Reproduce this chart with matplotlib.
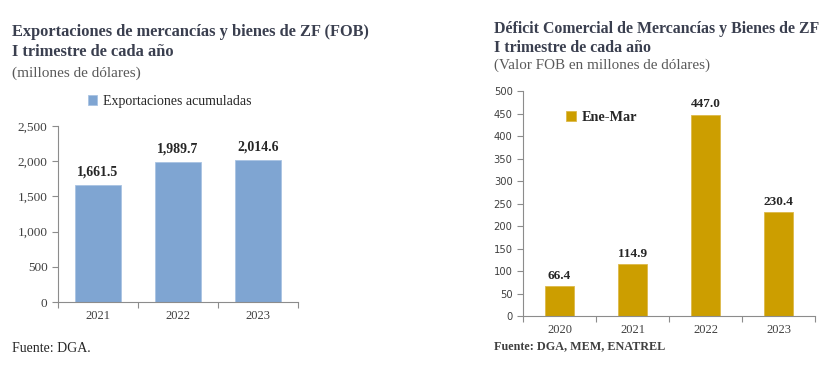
import matplotlib.pyplot as plt
import numpy as np

# left chart data
exp_years = ["2021", "2022", "2023"]
exp_values = [1661.5, 1989.7, 2014.6]

# right chart data
def_years = ["2020", "2021", "2022", "2023"]
def_values = [66.4, 114.9, 447.0, 230.4]

SERIF = "Liberation Serif"
TITLE_C = "#3a3f4f"
SUB_C = "#595959"
TICK_C = "#404040"
SPINE_C = "#8c8c8c"

fig = plt.figure(figsize=(8.29, 3.73), dpi=100)
plt.rcParams['font.family'] = SERIF


def style_axes(ax, n, ymax, ystep, yfmt, ytick_family, ytick_size):
    for s in ["top", "right"]:
        ax.spines[s].set_visible(False)
    for s in ["left", "bottom"]:
        ax.spines[s].set_color(SPINE_C)
        ax.spines[s].set_linewidth(0.8)
    ax.set_xlim(-0.5, n - 0.5)
    ax.set_ylim(0, ymax)
    yt = np.arange(0, ymax + 1, ystep)
    ax.set_yticks(yt)
    ax.set_yticklabels([yfmt(v) for v in yt], family=ytick_family,
                       fontsize=ytick_size, color=TICK_C)
    # category labels in the middle, tick marks on the boundaries
    ax.set_xticks(np.arange(n))
    ax.tick_params(axis="x", which="major", length=0, pad=6)
    ax.set_xticks(np.arange(n + 1) - 0.5, minor=True)
    ax.tick_params(axis="x", which="minor", length=4, color=SPINE_C, width=0.8)
    ax.tick_params(axis="y", length=4, color=SPINE_C, width=0.8)


# ---- left: exportaciones
ax1 = fig.add_axes([0.070, 0.1903, 0.2895, 0.472])
x1 = np.arange(len(exp_years))
b1 = ax1.bar(x1, exp_values, width=0.58, color="#7fa5d2", edgecolor="#a9c3e3",
             linewidth=0.6, label="Exportaciones acumuladas")
style_axes(ax1, len(exp_years), 2500, 500, lambda v: f"{v:,.0f}", SERIF, 9.5)
ax1.set_xticklabels(exp_years, fontsize=9, color=TICK_C)
for xi, v in zip(x1, exp_values):
    ax1.text(xi, v + 90, f"{v:,.1f}", ha="center", va="bottom",
             fontsize=10, fontweight="bold", color="#262626")
ax1.legend(handles=[b1], loc="center left", bbox_to_anchor=(0.0908, 0.729),
           bbox_transform=fig.transFigure, frameon=False, fontsize=10,
           handlelength=0.7, handleheight=0.7, handletextpad=0.4,
           labelcolor="#262626")

fig.text(0.0145, 0.915, "Exportaciones de mercancías y bienes de ZF (FOB)",
         fontsize=11.8, fontweight="bold", color=TITLE_C, va="center")
fig.text(0.0145, 0.86, "I trimestre de cada año", fontsize=11.8,
         fontweight="bold", color=TITLE_C, va="center")
fig.text(0.0145, 0.804, "(millones de dólares)", fontsize=11,
         color=SUB_C, va="center")
fig.text(0.0145, 0.065, "Fuente: DGA.", fontsize=10, color="#262626",
         va="center")

# ---- right: deficit
ax2 = fig.add_axes([0.6309, 0.1528, 0.3522, 0.603])
x2 = np.arange(len(def_years))
b2 = ax2.bar(x2, def_values, width=0.4, color="#cc9e00", edgecolor="#ddb94a",
             linewidth=0.6, label="Ene-Mar")
style_axes(ax2, len(def_years), 500, 50, lambda v: f"{v:.0f}",
           "DejaVu Sans", 7.2)
ax2.set_xticklabels(def_years, fontsize=9, color=TICK_C)
for xi, v in zip(x2, def_values):
    ax2.text(xi, v + 10, f"{v:.1f}", ha="center", va="bottom",
             fontsize=9.5, fontweight="bold", color="#262626")
ax2.legend(handles=[b2], loc="center left", bbox_to_anchor=(0.6676, 0.684),
           bbox_transform=fig.transFigure, frameon=False,
           prop={"family": SERIF, "weight": "bold", "size": 10.3},
           handlelength=0.7, handleheight=0.7, handletextpad=0.4,
           labelcolor="#262626")

fig.text(0.596, 0.922, "Déficit Comercial de Mercancías y Bienes de ZF",
         fontsize=11.4, fontweight="bold", color=TITLE_C, va="center")
fig.text(0.596, 0.871, "I trimestre de cada año", fontsize=11.4,
         fontweight="bold", color=TITLE_C, va="center")
fig.text(0.596, 0.826, "(Valor FOB en millones de dólares)", fontsize=10.9,
         color=SUB_C, va="center")
fig.text(0.596, 0.072, "Fuente: DGA, MEM, ENATREL", fontsize=8.7,
         fontweight="bold", color="#404040", va="center")

fig.savefig("out.png", dpi=100)
